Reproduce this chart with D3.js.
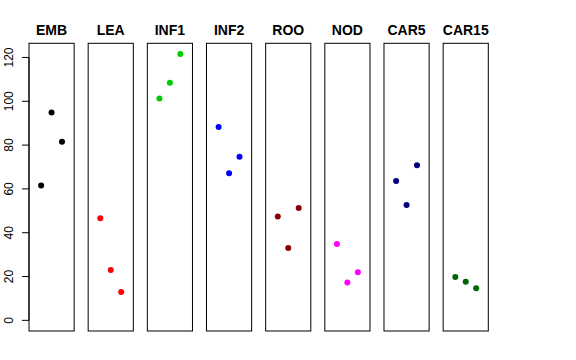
<!DOCTYPE html>
<html>
<head>
<meta charset="utf-8">
<script src="https://cdn.jsdelivr.net/npm/d3@7"></script>
<style>
  body { margin: 0; background: #fff; }
  text { font-family: "Liberation Sans", Arial, sans-serif; }
</style>
</head>
<body>
<svg id="chart" width="576" height="360"></svg>
<script>
// tissues, one panel each
var tissues = ["EMB", "LEA", "INF1", "INF2", "ROO", "NOD", "CAR5", "CAR15"];
var colors = ["#000000", "#FF0000", "#00CD00", "#0000FF", "#8B0000", "#FF00FF", "#000080", "#006400"];
// three replicates per tissue (plotted at x = 1, 2, 3)
var rep1 = [61.5, 46.6, 101.3, 88.2, 47.4, 34.8, 63.6, 19.8];
var rep2 = [94.9, 23.0, 108.4, 67.1, 33.0, 17.3, 52.6, 17.6];
var rep3 = [81.5, 12.9, 121.6, 74.7, 51.3, 22.0, 70.8, 14.6];
var yTicks = [0, 20, 40, 60, 80, 100, 120];

var svg = d3.select("#chart");

var plotTop = 43.3, plotBottom = 331;
var yMax = d3.max(rep1.concat(rep2, rep3));
var pad = yMax * 0.04;
var y = d3.scaleLinear().domain([-pad, yMax + pad]).range([plotBottom, plotTop]);

var band = d3.scaleBand().domain(tissues).range([29, 488.3]).paddingInner(0.237).paddingOuter(0);

tissues.forEach(function(t, i) {
  var x0 = band(t);
  var x = d3.scaleLinear().domain([-0.16, 4.16]).range([x0, x0 + band.bandwidth()]);
  var g = svg.append("g");

  g.append("rect")
    .attr("x", x0)
    .attr("y", plotTop)
    .attr("width", band.bandwidth())
    .attr("height", plotBottom - plotTop)
    .attr("fill", "none")
    .attr("stroke", "#000")
    .attr("stroke-width", 1);

  g.append("text")
    .attr("x", x0 + band.bandwidth() / 2)
    .attr("y", 35)
    .attr("text-anchor", "middle")
    .attr("font-weight", "bold")
    .attr("font-size", "14px")
    .text(t);

  var vals = [rep1[i], rep2[i], rep3[i]];
  g.selectAll("circle").data(vals).enter()
    .append("circle")
    .attr("cx", function(d, j) { return x(j + 1); })
    .attr("cy", function(d) { return y(d); })
    .attr("r", 3)
    .attr("fill", colors[i]);
});

// y axis on the first panel
var ax = svg.append("g");
var axX = band(tissues[0]);
ax.append("line")
  .attr("x1", axX).attr("x2", axX)
  .attr("y1", y(yTicks[0])).attr("y2", y(yTicks[yTicks.length - 1]))
  .attr("stroke", "#000");
ax.selectAll(".tick").data(yTicks).enter()
  .append("line")
  .attr("class", "tick")
  .attr("x1", axX - 7).attr("x2", axX)
  .attr("y1", function(d) { return y(d); })
  .attr("y2", function(d) { return y(d); })
  .attr("stroke", "#000");
ax.selectAll(".lab").data(yTicks).enter()
  .append("text")
  .attr("class", "lab")
  .attr("text-anchor", "middle")
  .attr("font-size", "12px")
  .attr("transform", function(d) { return "translate(12.7," + y(d) + ") rotate(-90)"; })
  .text(function(d) { return d; });
</script>
</body>
</html>
